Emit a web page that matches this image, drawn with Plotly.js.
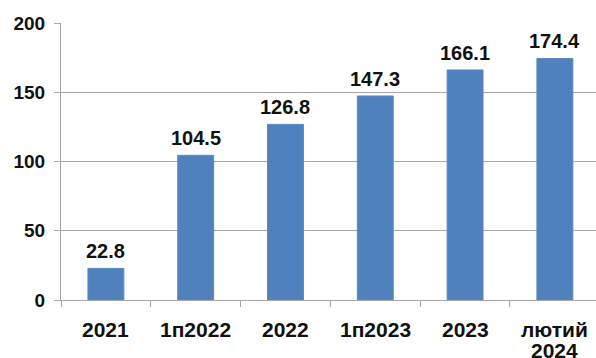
<!DOCTYPE html>
<html>
<head>
<meta charset="utf-8">
<script src="https://cdn.plot.ly/plotly-3.0.1.min.js"></script>
<style>
  html, body { margin: 0; padding: 0; background: #ffffff; }
  #chart { width: 596px; height: 358px; }
</style>
</head>
<body>
<div id="chart"></div>
<script>
// Periods and their values
const categories = ['2021', '1п2022', '2022', '1п2023', '2023', 'лютий<br>2024'];
const values = [22.8, 104.5, 126.8, 147.3, 166.1, 174.4];
const yTicks = [0, 50, 100, 150, 200];

const FONT = 'Liberation Sans, Arial, sans-serif';
const INK = '#111111';
const GRID = '#a6a6a6';

const trace = {
  type: 'bar',
  x: categories,
  y: values,
  marker: { color: '#4f81bd', line: { color: '#5a8ac6', width: 1 } },
  width: 0.4,
  hoverinfo: 'skip'
};

// value labels above each bar (x given as category index, since some
// category names look numeric)
const valueLabels = categories.map((c, i) => ({
  x: i,
  y: values[i],
  xref: 'x',
  yref: 'y',
  text: values[i].toFixed(1),
  showarrow: false,
  yanchor: 'bottom',
  yshift: 4,
  font: { family: FONT, size: 20, color: INK, weight: 'bold' }
}));

// category labels under the axis, one annotation per line so the
// line spacing stays tight
const LINE_GAP = 21;
const categoryLabels = [];
categories.forEach((c, i) => {
  c.split('<br>').forEach((line, j) => {
    categoryLabels.push({
      x: i,
      y: 0,
      xref: 'x',
      yref: 'y',
      text: line,
      showarrow: false,
      yanchor: 'top',
      yshift: -16 - j * LINE_GAP,
      font: { family: FONT, size: 21, color: INK, weight: 'bold' }
    });
  });
});

const layout = {
  width: 596,
  height: 358,
  margin: { l: 61, r: 0, t: 23, b: 58, pad: 0 },
  paper_bgcolor: '#ffffff',
  plot_bgcolor: '#ffffff',
  showlegend: false,
  xaxis: {
    type: 'category',
    range: [-0.5, 5.458],
    showline: true,
    linecolor: GRID,
    linewidth: 1,
    ticks: 'outside',
    tickson: 'boundaries',
    ticklen: 6,
    tickcolor: GRID,
    showgrid: false,
    showticklabels: false
  },
  yaxis: {
    range: [0, 200],
    tickvals: yTicks,
    ticktext: yTicks.map(String),
    showline: true,
    linecolor: GRID,
    linewidth: 1,
    ticks: 'outside',
    ticklen: 6,
    tickcolor: GRID,
    showgrid: true,
    gridcolor: GRID,
    gridwidth: 1,
    zeroline: false,
    tickfont: { family: FONT, size: 19, color: INK, weight: 'bold' },
    ticklabelstandoff: 5
  },
  annotations: valueLabels.concat(categoryLabels)
};

Plotly.newPlot('chart', [trace], layout, { staticPlot: true, displayModeBar: false });
</script>
</body>
</html>
